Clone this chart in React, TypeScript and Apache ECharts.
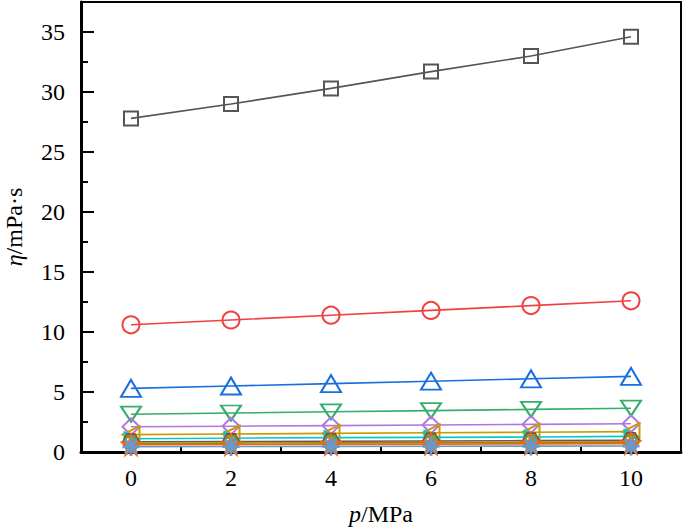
import React, { useEffect, useRef } from "react";
import * as echarts from "echarts";

const pressures = [0, 2, 4, 6, 8, 10];
const s1 = [27.8, 29.0, 30.3, 31.7, 33.0, 34.6];
const s2 = [10.6, 11.0, 11.4, 11.8, 12.2, 12.6];
const s3 = [5.3, 5.5, 5.7, 5.9, 6.1, 6.3];
const s4 = [3.15, 3.25, 3.35, 3.45, 3.55, 3.65];
const s5 = [2.1, 2.15, 2.2, 2.25, 2.3, 2.35];
const s6 = [1.45, 1.5, 1.55, 1.6, 1.65, 1.7];
const s7 = [1.1, 1.15, 1.2, 1.22, 1.25, 1.3];
const s8 = [0.85, 0.87, 0.9, 0.92, 0.95, 0.97];
const s9 = [0.72, 0.74, 0.76, 0.78, 0.8, 0.82];
const s10 = [0.6, 0.62, 0.64, 0.66, 0.68, 0.7];
const s11 = [0.45, 0.46, 0.47, 0.48, 0.49, 0.5];

const xTickLabels = ["0", "2", "4", "6", "8", "10"];
const yTickLabels = ["0", "5", "10", "15", "20", "25", "30", "35"];

const colors = [
  "#555555", "#F14040", "#1A6FDF", "#37AD6B", "#B177DE", "#CC9900",
  "#00CBCC", "#7D4E4E", "#8E8E00", "#FB6501", "#6699CC",
];

const HEX = "path://M5,0L15,0L20,8.66L15,17.32L5,17.32L0,8.66Z";
const STAR =
  "path://M10,0L12.35,6.76L19.51,6.91L13.8,11.24L15.88,18.09L10,14L4.12,18.09L6.2,11.24L0.49,6.91L7.65,6.76Z";
const ASTER = "path://M10,0L10,20M0,10L20,10M2.93,2.93L17.07,17.07M2.93,17.07L17.07,2.93";

const FONT = "Liberation Serif";

export default function App() {
  const ref = useRef<HTMLDivElement>(null);
  useEffect(() => {
    if (!ref.current) return;
    const chart = echarts.init(ref.current, undefined, { renderer: "svg" });
    const data = [s1, s2, s3, s4, s5, s6, s7, s8, s9, s10, s11];
    const symbols: any[] = [
      ["rect", [14, 14], 0],
      ["circle", [17, 17], 0],
      ["triangle", [20, 17], 0],
      ["triangle", [20, 15], 180],
      ["diamond", [17, 17], 0],
      ["triangle", [17, 17], 90],
      ["triangle", [13, 13], -90],
      [HEX, [16, 15], 0],
      [HEX, [15, 14], 0],
      [STAR, [18, 20], 0],
      [ASTER, [17, 19], 0],
    ];
    const series = data.map((vals, i) => ({
      type: "line",
      xAxisIndex: 0,
      yAxisIndex: 0,
      data: pressures.map((p, j) => [p, vals[j]]),
      symbol: symbols[i][0],
      symbolSize: symbols[i][1],
      symbolRotate: symbols[i][2],
      showAllSymbol: true,
      lineStyle: { color: colors[i], width: 1.6 },
      itemStyle: {
        color: i === 9 ? colors[i] : "rgba(0,0,0,0)",
        borderColor: colors[i],
        borderWidth: i === 10 ? 3 : 2,
      },
      emphasis: { disabled: true },
      z: 2 + i,
    }));
    const nameStyle = {
      color: "#000",
      fontFamily: FONT,
      fontSize: 24,
      rich: { i: { fontStyle: "italic", fontFamily: FONT, fontSize: 24, color: "#000" } },
    };
    chart.setOption({
      animation: false,
      backgroundColor: "#ffffff",
      textStyle: { fontFamily: FONT },
      grid: {
        left: 81,
        right: 4,
        top: 2,
        bottom: 76,
        outerBoundsMode: "none",
        containLabel: false,
        show: true,
        borderColor: "#000",
        borderWidth: 2,
        backgroundColor: "transparent",
      },
      xAxis: [
        {
          type: "value",
          min: -1,
          max: 11,
          interval: 1,
          splitLine: { show: false },
          axisLine: { show: true, onZero: false, lineStyle: { color: "#000", width: 3 } },
          axisTick: { show: true, inside: true, length: 5, lineStyle: { color: "#000", width: 2 } },
          axisLabel: {
            color: "#000",
            fontFamily: FONT,
            fontSize: 24,
            margin: 14,
            formatter: (v: number) => {
              const s = String(v);
              return xTickLabels.indexOf(s) >= 0 ? s : "";
            },
          },
          name: "{i|p}/MPa",
          nameLocation: "middle",
          nameGap: 50,
          nameTextStyle: nameStyle,
        },
      ],
      yAxis: [
        {
          type: "value",
          min: 0,
          max: 37.5,
          interval: 5,
          position: "left",
          splitLine: { show: false },
          axisLine: { show: true, onZero: false, lineStyle: { color: "#000", width: 3 } },
          axisTick: { show: true, inside: true, length: 13, lineStyle: { color: "#000", width: 2 } },
          axisLabel: {
            color: "#000",
            fontFamily: FONT,
            fontSize: 24,
            margin: 16,
            formatter: (v: number) => {
              const s = String(v);
              return yTickLabels.indexOf(s) >= 0 ? s : "";
            },
          },
          name: "{i|η}/mPa·s",
          nameLocation: "middle",
          nameGap: 55,
          nameTextStyle: nameStyle,
        },
        {
          type: "value",
          min: 0,
          max: 37.5,
          interval: 2.5,
          position: "left",
          offset: 0,
          splitLine: { show: false },
          axisLine: { show: false, onZero: false },
          axisTick: { show: true, inside: true, length: 7, lineStyle: { color: "#000", width: 2 } },
          axisLabel: { show: false },
        },
      ],
      series,
    });
    return () => chart.dispose();
  }, []);
  return (
    <div
      ref={ref}
      style={{ position: "fixed", left: 0, top: 0, width: 685, height: 528 }}
    />
  );
}
